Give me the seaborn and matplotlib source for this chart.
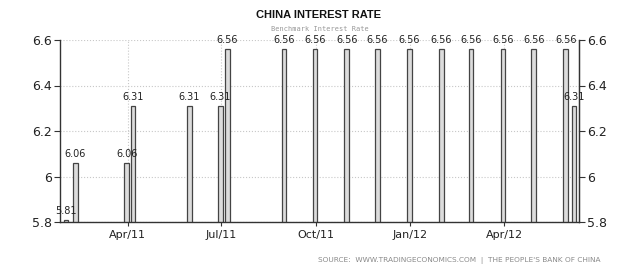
import matplotlib
matplotlib.use("Agg")
import matplotlib.pyplot as plt
import matplotlib.dates as mdates
import seaborn as sns
import pandas as pd
import numpy as np

dates = ["2011-01-31", "2011-02-09", "2011-03-31", "2011-04-06", "2011-05-31",
         "2011-06-30", "2011-07-07", "2011-08-31", "2011-09-30", "2011-10-31",
         "2011-11-30", "2011-12-31", "2012-01-31", "2012-02-29", "2012-03-31",
         "2012-04-30", "2012-05-31", "2012-06-08"]
rates = [5.81, 6.06, 6.06, 6.31, 6.31, 6.31, 6.56, 6.56, 6.56, 6.56,
         6.56, 6.56, 6.56, 6.56, 6.56, 6.56, 6.56, 6.31]
tick_dates = ["2011-04-01", "2011-07-01", "2011-10-01", "2012-01-01", "2012-04-01"]
tick_labels = ["Apr/11", "Jul/11", "Oct/11", "Jan/12", "Apr/12"]
y_ticks = [5.8, 6.0, 6.2, 6.4, 6.6]
y_tick_labels = ["5.8", "6", "6.2", "6.4", "6.6"]

sns.set_style("white")
plt.rcParams['font.family'] = ['DejaVu Sans']

df = pd.DataFrame({"x": mdates.date2num(pd.to_datetime(dates)), "rate": rates})

fig = plt.figure(figsize=(6.4, 2.74), dpi=100)
ax = fig.add_axes([60/640, 1-222/274, (579-60)/640, (222-40)/274])

sns.barplot(data=df, x="x", y="rate", native_scale=True, width=0.75,
            color="#dcdcdc", edgecolor="#444444", linewidth=0.9,
            saturation=1, ax=ax, errorbar=None)
for p in ax.patches:
    p.set_facecolor("#dcdcdc")

for xv, v in zip(df["x"], df["rate"]):
    ax.text(xv, v + 0.018, f"{v:.2f}", ha="center", va="bottom", fontsize=7, color="#222222")

xmin = mdates.date2num(pd.Timestamp("2011-01-25"))
xmax = mdates.date2num(pd.Timestamp("2012-06-13"))
ax.set_xlim(xmin, xmax)
ax.set_ylim(5.8, 6.6)
ax.set_xticks(mdates.date2num(pd.to_datetime(tick_dates)))
ax.set_xticklabels(tick_labels, fontsize=8, color="#222222")
ax.set_yticks(y_ticks)
ax.set_yticklabels(y_tick_labels, fontsize=9, color="#222222")
ax.set_xlabel("")
ax.set_ylabel("")

ax.grid(True, axis="both", linestyle=":", color="#c8c8c8", linewidth=0.8)
ax.set_axisbelow(True)
for s in ["left", "right", "bottom"]:
    ax.spines[s].set_visible(True)
    ax.spines[s].set_color("#333333")
    ax.spines[s].set_linewidth(1.0)
ax.spines["top"].set_visible(False)
ax.tick_params(axis="y", which="both", left=True, right=False, length=4, width=0.8, color="#333333", pad=2)
ax.tick_params(axis="x", bottom=True, length=3, width=0.8, color="#333333", pad=3)

ax2 = ax.twinx()
ax2.set_ylim(5.8, 6.6)
ax2.set_yticks(y_ticks)
ax2.set_yticklabels(y_tick_labels, fontsize=9, color="#222222")
ax2.tick_params(axis="y", length=4, width=0.8, color="#333333", pad=2)
for s in ["left", "top", "bottom"]:
    ax2.spines[s].set_visible(False)
ax2.spines["right"].set_color("#333333")
ax2.grid(False)

fig.text(319/640, 1-15/274, "CHINA INTEREST RATE", ha="center", va="center",
         fontsize=8, fontweight="bold", color="#111111", family="Liberation Sans")
fig.text(320/640, 1-29/274, "Benchmark Interest Rate", ha="center", va="center",
         fontsize=5, color="#999999", family="DejaVu Sans Mono")
fig.text(601/640, 1-261/274, "SOURCE:  WWW.TRADINGECONOMICS.COM  |  THE PEOPLE'S BANK OF CHINA",
         ha="right", va="center", fontsize=5.3, color="#8a8a8a")

fig.savefig("out.png", dpi=100)
